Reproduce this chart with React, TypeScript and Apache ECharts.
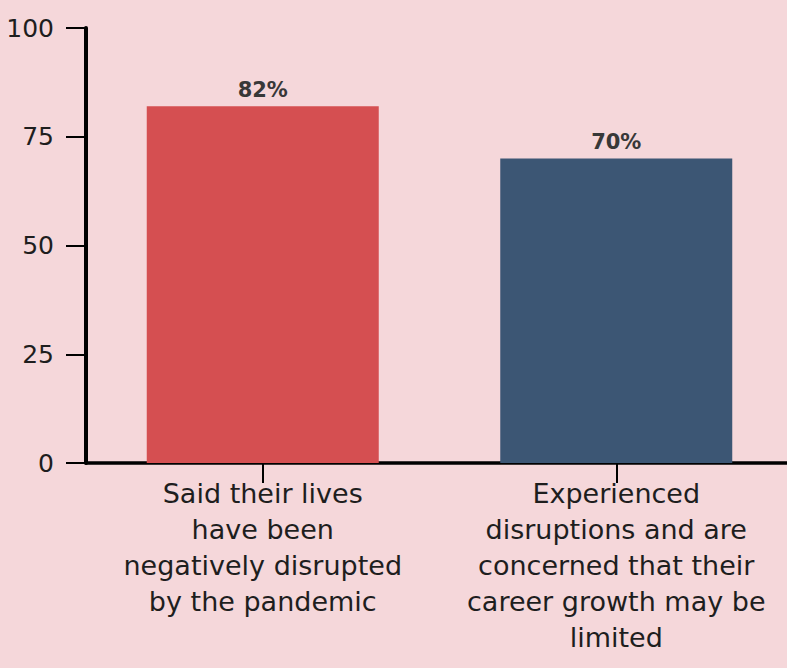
import React, { useEffect, useRef } from "react";
import * as echarts from "echarts";

const categories = [
  "Said their lives\nhave been\nnegatively disrupted\nby the pandemic",
  "Experienced\ndisruptions and are\nconcerned that their\ncareer growth may be\nlimited",
];
const values = [82, 70];
const valueLabels = ["82%", "70%"];
const barColors = ["#d54f51", "#3c5674"];
const yTicks = [0, 25, 50, 75, 100];

const BG = "#f5d7da";
const FONT = "DejaVu Sans";

export default function App() {
  const ref = useRef<HTMLDivElement>(null);

  useEffect(() => {
    if (!ref.current) return;
    const chart = echarts.init(ref.current, null, { renderer: "svg" });
    chart.setOption({
      animation: false,
      backgroundColor: BG,
      // the plot runs a little past the right edge of the visible frame
      grid: { left: 86, top: 28, right: 0, bottom: 205, containLabel: false },
      xAxis: {
        type: "category",
        data: categories,
        axisLine: { show: true, lineStyle: { color: "#000", width: 3.5 } },
        axisTick: { show: true, alignWithLabel: true, length: 20, lineStyle: { color: "#000", width: 2 } },
        axisLabel: {
          interval: 0,
          margin: 12,
          color: "#1e1e1e",
          fontFamily: FONT,
          fontSize: 27,
          lineHeight: 36,
          align: "center",
        },
      },
      yAxis: {
        type: "value",
        min: yTicks[0],
        max: yTicks[yTicks.length - 1],
        interval: 25,
        splitLine: { show: false },
        axisLine: { show: true, lineStyle: { color: "#000", width: 4 } },
        axisTick: { show: true, length: 20, lineStyle: { color: "#000", width: 2 } },
        axisLabel: {
          margin: 32,
          color: "#1e1e1e",
          fontFamily: FONT,
          fontSize: 25,
        },
      },
      series: [
        {
          type: "bar",
          barWidth: 232,
          data: values.map((v, i) => ({
            value: v,
            itemStyle: { color: barColors[i] },
            label: { formatter: valueLabels[i] },
          })),
          label: {
            show: true,
            position: "top",
            distance: 6,
            color: "#383838",
            fontFamily: FONT,
            fontWeight: "bold",
            fontSize: 21,
          },
        },
      ],
    });
    return () => chart.dispose();
  }, []);

  return (
    <div
      style={{
        position: "absolute",
        left: 0,
        top: 0,
        width: 787,
        height: 668,
        overflow: "hidden",
        background: BG,
      }}
    >
      <div ref={ref} style={{ width: 793, height: 668 }} />
    </div>
  );
}
